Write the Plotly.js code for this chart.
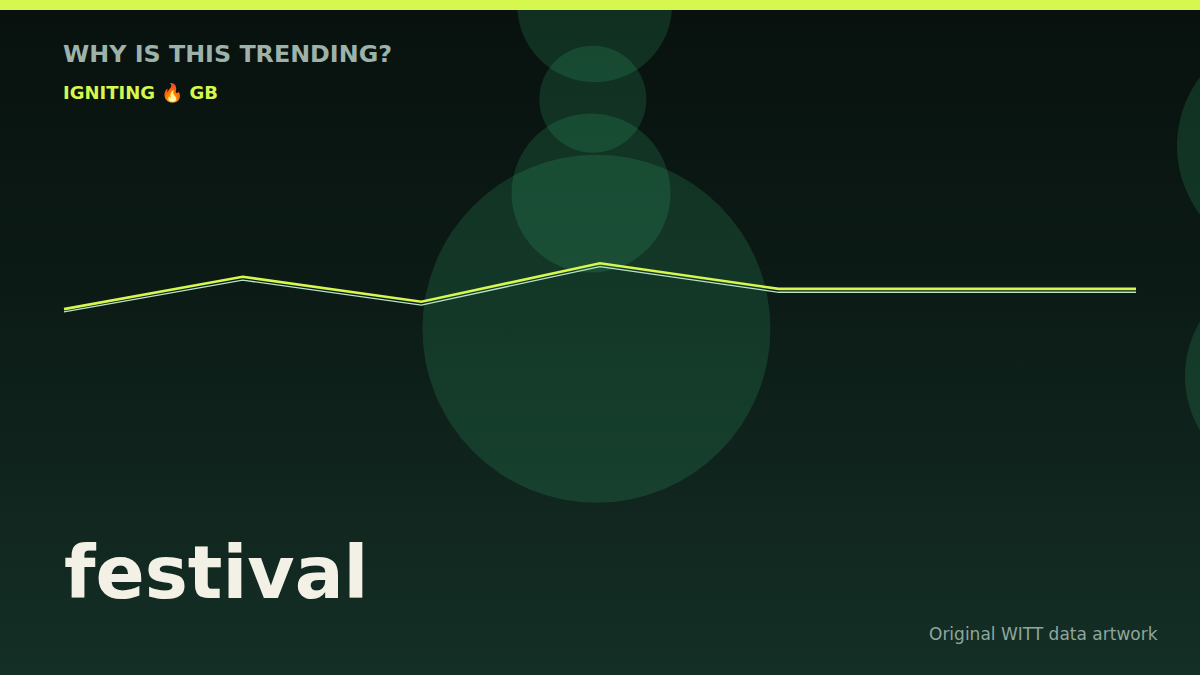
<!DOCTYPE html>
<html>
<head>
<meta charset="utf-8">
<script src="https://cdn.plot.ly/plotly-3.0.1.min.js"></script>
<style>
  html, body { margin: 0; padding: 0; }
  body {
    width: 1200px; height: 675px; overflow: hidden;
    background: linear-gradient(to bottom, #08110e 0%, #0c1b16 45%, #142f26 100%);
  }
  #chart { width: 1400px; height: 675px; }
</style>
</head>
<body>
<div id="chart"></div>
<script>
// ---- Data ----
const periods      = [0, 1, 2, 3, 4, 5, 6];
const interest     = [54.2, 59.0, 55.3, 61.0, 57.2, 57.2, 57.2];
const interestEcho = [53.8, 58.5, 54.8, 60.5, 56.7, 56.7, 56.7];

const bubbleX    = [2.97, 2.96, 2.95, 2.98, 6.87, 6.87];
const bubbleY    = [99.3, 85.3, 71.4, 51.3, 78.4, 44.3];
const bubbleSize = [155, 107, 159, 348, 229, 213];

const LIME  = '#d6f74e';
const MINT  = '#b7e6c6';
const FONT  = '"DejaVu Sans", sans-serif';

// plot is wider than the 1200px window so the right-hand bubbles can sit past the edge
const W = 1400, H = 675;

const traces = [
  {
    type: 'scatter', mode: 'markers',
    x: bubbleX, y: bubbleY,
    cliponaxis: false,
    marker: {
      size: bubbleSize, sizemode: 'diameter',
      color: 'rgba(58,190,122,0.26)',
      line: { width: 0 },
    },
    hoverinfo: 'skip',
  },
  {
    type: 'scatter', mode: 'lines',
    x: periods, y: interestEcho,
    line: { color: MINT, width: 1.3 },
    hoverinfo: 'skip',
  },
  {
    type: 'scatter', mode: 'lines',
    x: periods, y: interest,
    line: { color: LIME, width: 2.6 },
    hoverinfo: 'skip',
  },
];

// helpers: pixel -> paper fraction
const px = (p) => p / W;
const py = (p) => 1 - p / H;

const layout = {
  width: W, height: H,
  margin: { l: 0, r: 0, t: 0, b: 0 },
  paper_bgcolor: 'rgba(0,0,0,0)',
  plot_bgcolor:  'rgba(0,0,0,0)',
  showlegend: false,
  xaxis: { range: [-0.3582, 7.4775], visible: false, fixedrange: true },
  yaxis: { range: [0, 100], visible: false, fixedrange: true },
  shapes: [
    { type: 'rect', xref: 'paper', yref: 'paper', x0: 0, x1: 1, y0: py(10), y1: 1,
      fillcolor: LIME, line: { width: 0 }, layer: 'above' },
  ],
  annotations: [
    { text: '<b>WHY IS THIS TRENDING?</b>', xref: 'paper', yref: 'paper',
      x: px(61), y: py(54), xanchor: 'left', yanchor: 'middle', showarrow: false,
      font: { family: FONT, size: 23.8, color: '#9db3aa' } },
    { text: '<b>IGNITING 🔥 GB</b>', xref: 'paper', yref: 'paper',
      x: px(61), y: py(92), xanchor: 'left', yanchor: 'middle', showarrow: false,
      font: { family: FONT, size: 18, color: LIME } },
    { text: '<b>festival</b>', xref: 'paper', yref: 'paper',
      x: px(62), y: py(573), xanchor: 'left', yanchor: 'middle', showarrow: false,
      font: { family: FONT, size: 72.5, color: '#f3f0e6' } },
    { text: 'Original WITT data artwork', xref: 'paper', yref: 'paper',
      x: px(1160), y: py(634), xanchor: 'right', yanchor: 'middle', showarrow: false,
      font: { family: FONT, size: 17, color: '#8ea79c' } },
  ],
};

Plotly.newPlot('chart', traces, layout, { displayModeBar: false, staticPlot: true });
</script>
</body>
</html>
